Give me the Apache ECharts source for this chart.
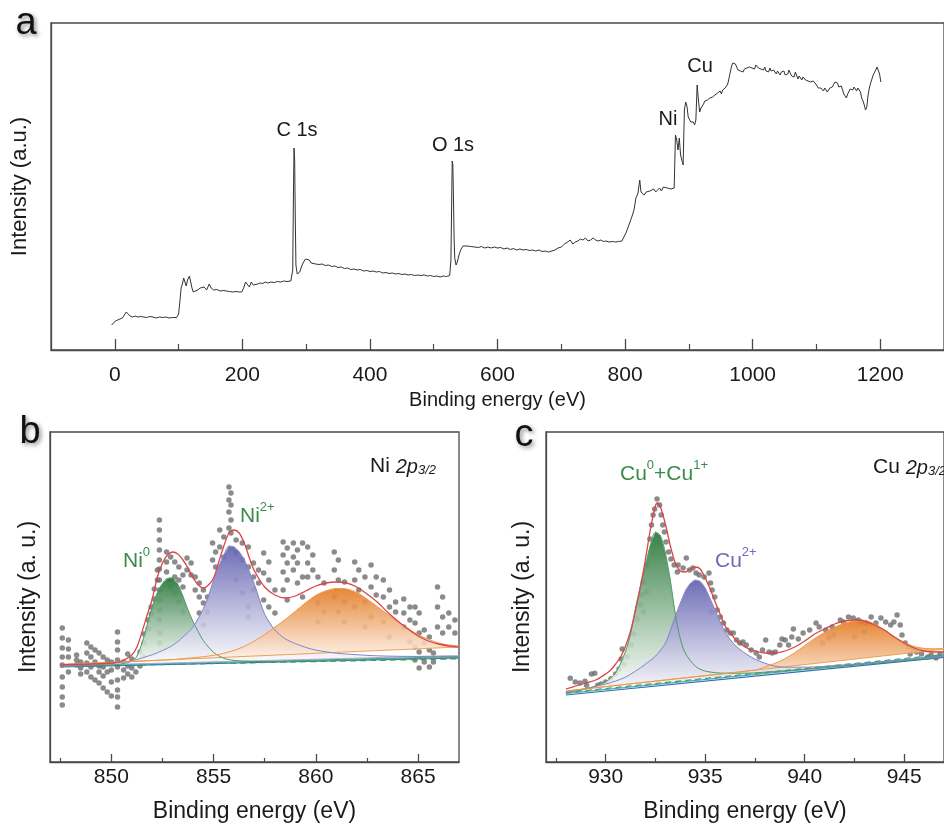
<!DOCTYPE html>
<html>
<head>
<meta charset="utf-8">
<script src="https://cdn.jsdelivr.net/npm/echarts@6/dist/echarts.min.js"></script>
<style>
  html, body { margin: 0; padding: 0; background: #fff; overflow: hidden; }
  #chart { width: 944px; height: 828px; }
</style>
</head>
<body>
<div id="chart"></div>
<script>
  // ---------- panel a : survey ----------
  const surveyTicks = [0, 200, 400, 600, 800, 1000, 1200];
  const surveyMinorTicks = [100, 300, 500, 700, 900, 1100];
  const surveySpectrum = [
    [-5, 25], [-2, 27], [1, 29], [4, 28], [8, 31], [12, 32], [15, 35], [18, 38], [21, 36], [24, 34],
    [28, 33], [32, 34], [36, 33], [40, 33.5], [45, 33], [50, 32.5], [55, 33.5], [60, 33], [65, 32],
    [70, 33], [75, 32.5], [80, 33], [85, 32], [90, 32.5], [97, 32.5], [100, 36], [102, 48], [104, 62],
    [106, 66], [108, 72], [110, 68], [112, 64], [114, 70], [117, 74], [119, 68], [121, 62], [123, 58],
    [126, 59], [130, 60], [134, 62], [137, 61], [140, 63], [144, 60], [148, 66], [151, 62], [155, 60],
    [160, 60.5], [165, 59], [170, 59.5], [175, 59], [180, 58.5], [185, 58], [190, 58.5], [195, 58],
    [199, 58], [202, 62], [205, 68], [208, 66], [211, 63], [214, 68], [217, 65], [220, 67], [224, 66],
    [228, 67], [232, 66.5], [236, 68], [240, 67], [245, 68], [250, 67.5], [255, 68.5], [260, 68],
    [265, 69], [270, 68.5], [276, 69], [279, 80], [280, 150], [281, 202], [282, 190], [283, 130],
    [284, 85], [286, 76], [288, 75], [290, 78], [293, 84], [296, 88], [299, 91], [302, 89], [305, 90],
    [308, 87], [311, 88], [315, 86], [320, 85.5], [325, 86], [330, 84.5], [335, 85], [340, 83.5],
    [345, 84], [350, 82.5], [355, 83], [360, 81.5], [365, 82], [370, 80.5], [375, 81], [380, 80],
    [385, 80.5], [390, 79], [395, 79.5], [400, 78.5], [405, 79], [410, 78], [415, 78.5], [420, 77],
    [425, 77.5], [430, 76.5], [435, 77], [440, 76], [445, 76.5], [450, 75.5], [455, 76], [460, 75],
    [465, 75.5], [470, 74.5], [475, 75], [480, 74.5], [485, 75], [490, 74], [495, 74.5], [500, 73.5],
    [505, 74], [510, 73], [515, 74], [520, 73.5], [525, 74.5], [527, 90], [528, 140], [529, 189],
    [530, 185], [531, 150], [532, 110], [533, 92], [535, 85], [537, 88], [540, 96], [543, 101],
    [546, 104], [549, 106], [552, 104], [555, 105], [558, 103.5], [561, 104.5], [564, 103], [567, 104],
    [570, 102.5], [575, 103.5], [580, 102], [585, 103], [590, 102], [595, 103], [600, 102], [605, 102.5],
    [610, 101], [615, 102], [620, 100.5], [625, 101.5], [630, 100], [635, 101], [640, 100], [645, 100.5],
    [650, 99.5], [655, 100], [660, 99], [665, 100], [670, 98.5], [675, 99], [680, 98], [685, 99],
    [690, 100], [695, 102], [700, 103], [705, 106], [710, 108], [714, 110], [718, 106], [722, 108],
    [726, 109], [730, 111], [734, 110], [738, 112], [742, 109], [746, 110], [750, 112], [754, 110],
    [758, 109], [762, 110], [766, 108.5], [770, 109], [775, 108], [780, 108.5], [785, 108], [790, 108.5],
    [795, 109], [798, 110], [802, 118], [806, 125], [810, 132], [814, 140], [817, 152], [820, 156],
    [823, 170], [825, 158], [827, 160], [830, 155], [833, 158], [836, 156], [839, 159], [842, 157],
    [845, 161], [848, 158], [851, 160], [854, 162], [857, 159], [860, 163], [863, 161], [866, 162],
    [869, 160], [872, 161], [875, 162], [877, 162], [879, 215], [881, 210], [883, 200], [885, 212],
    [887, 195], [889, 190], [891, 185], [893, 240], [895, 248], [897, 244], [899, 233], [901, 232],
    [903, 228], [905, 230], [907, 228], [909, 225], [911, 230], [913, 265], [915, 250], [917, 238],
    [919, 242], [921, 243], [923, 246], [925, 249], [927, 247], [929, 250], [931, 248], [933, 252],
    [935, 250], [937, 253], [939, 251], [941, 255], [943, 253], [945, 257], [947, 255], [949, 259],
    [951, 256], [953, 260], [955, 258], [957, 262], [959, 264], [961, 266], [963, 272], [965, 278],
    [967, 284], [969, 287], [971, 288], [973, 286], [975, 284], [977, 280], [979, 281], [981, 279],
    [983, 277], [985, 278], [987, 281], [989, 283], [991, 282], [993, 284], [995, 283], [997, 285],
    [999, 282], [1001, 284], [1003, 281], [1005, 285], [1007, 283], [1009, 282], [1011, 284], [1013, 281],
    [1015, 282], [1017, 280], [1019, 283], [1021, 279], [1023, 281], [1025, 278], [1027, 282], [1029, 279],
    [1031, 277], [1033, 280], [1035, 278], [1037, 276], [1039, 279], [1041, 277], [1043, 275], [1045, 278],
    [1047, 276], [1049, 279], [1051, 275], [1053, 277], [1055, 276], [1057, 280], [1059, 277], [1061, 274],
    [1063, 276], [1065, 273], [1067, 278], [1069, 276], [1071, 271], [1073, 274], [1075, 272], [1077, 270],
    [1079, 273], [1081, 271], [1083, 270], [1085, 272], [1087, 269], [1089, 271], [1091, 268], [1093, 267],
    [1095, 269], [1097, 268], [1099, 266], [1101, 265], [1103, 262], [1105, 260], [1107, 262], [1109, 261],
    [1111, 259], [1113, 262], [1115, 260], [1117, 258], [1119, 260], [1121, 262], [1123, 260], [1125, 263],
    [1127, 264], [1129, 268], [1131, 266], [1133, 267], [1135, 263], [1137, 262], [1139, 264], [1141, 260],
    [1143, 256], [1145, 254], [1147, 252], [1149, 256], [1151, 258], [1153, 261], [1155, 262], [1157, 260],
    [1159, 263], [1161, 261], [1163, 259], [1165, 262], [1167, 260], [1169, 258], [1171, 252], [1173, 249],
    [1175, 245], [1177, 240], [1179, 243], [1181, 255], [1183, 262], [1185, 267], [1187, 271], [1189, 275],
    [1191, 277], [1193, 280], [1195, 283], [1197, 281], [1199, 276], [1201, 268]
  ];

  // ---------- panel b : Ni 2p3/2 ----------
  const niTicks = [850, 855, 860, 865];
  const niMinorTicks = [847.5, 852.5, 857.5, 862.5];
  const niPoints = [
    [847.6, 134], [847.6, 124], [847.6, 114], [847.6, 105], [847.6, 97], [847.6, 85], [847.6, 75], [847.6, 65], [847.6, 57],
    [847.9, 122], [847.9, 113], [847.9, 105], [847.9, 90],
    [848.3, 107], [848.3, 102], [848.3, 97], [848.5, 94], [848.5, 100], [848.5, 88],
    [848.8, 119], [848.8, 109], [848.8, 99], [848.8, 90], [849.0, 115], [849.0, 105], [849.0, 95], [849.0, 85],
    [849.2, 112], [849.2, 100], [849.2, 82], [849.4, 109], [849.4, 96], [849.4, 79], [849.4, 90],
    [849.6, 105], [849.6, 95], [849.6, 86], [849.6, 74], [849.8, 102], [849.8, 90], [849.8, 70],
    [850.0, 100], [850.0, 92], [850.0, 80], [850.0, 66],
    [850.3, 130], [850.3, 120], [850.3, 112], [850.3, 102], [850.3, 95], [850.3, 82], [850.3, 72], [850.3, 65], [850.3, 55],
    [850.6, 100], [850.6, 92], [850.6, 84], [850.8, 108], [850.8, 96], [850.8, 88], [851.0, 103], [851.0, 94], [851.0, 85],
    [851.2, 99], [851.2, 90], [851.4, 110], [851.4, 96], [851.6, 119], [851.6, 128], [851.6, 105],
    [851.8, 142], [851.8, 133], [851.95, 155], [851.95, 148], [852.1, 173], [852.1, 163], [852.25, 192], [852.25, 182],
    [852.35, 242], [852.35, 232], [852.35, 222], [852.35, 212], [852.35, 202], [852.35, 193], [852.35, 182],
    [852.35, 172], [852.35, 162], [852.35, 152], [852.35, 142], [852.35, 129], [852.35, 119],
    [852.7, 210], [852.7, 200], [852.7, 190], [852.9, 205], [852.9, 182], [852.9, 175],
    [853.1, 200], [853.1, 185], [853.1, 169], [853.3, 195], [853.3, 182], [853.3, 160],
    [853.5, 187], [853.5, 175], [853.5, 150], [853.7, 204], [853.7, 192], [853.9, 199], [853.9, 187],
    [854.1, 185], [854.1, 172], [854.3, 179], [854.3, 165], [854.3, 149], [854.5, 172], [854.5, 159], [854.5, 137],
    [854.7, 165], [854.7, 150], [854.95, 219], [854.95, 202], [855.1, 210], [855.1, 195],
    [855.3, 232], [855.3, 215], [855.5, 225], [855.5, 205],
    [855.75, 275], [855.75, 262], [855.75, 250], [855.75, 234], [855.85, 269], [855.85, 257], [855.85, 242], [855.85, 229],
    [856.1, 222], [856.1, 209], [856.1, 182], [856.4, 219], [856.4, 202], [856.4, 169],
    [856.7, 215], [856.7, 195], [856.7, 155], [856.7, 145], [856.95, 199], [856.95, 185], [856.95, 172],
    [857.2, 192], [857.2, 179], [857.45, 209], [857.45, 189], [857.45, 162], [857.7, 200], [857.7, 182], [857.7, 155],
    [858.0, 172], [858.0, 149], [858.4, 220], [858.4, 207], [858.4, 190], [858.4, 172],
    [858.6, 214], [858.6, 199], [858.6, 182], [858.6, 162], [858.9, 219], [858.9, 205], [858.9, 192],
    [859.1, 212], [859.1, 199], [859.1, 179], [859.35, 219], [859.35, 185], [859.35, 165],
    [859.6, 215], [859.6, 199], [859.6, 185], [859.85, 207], [859.85, 192],
    [860.1, 185], [860.1, 159], [860.1, 140], [860.4, 179], [860.4, 150],
    [860.9, 210], [860.9, 192], [860.9, 165], [861.1, 202], [861.1, 182], [861.1, 150],
    [861.4, 180], [861.4, 160], [861.4, 140], [861.9, 200], [861.9, 182], [861.9, 155],
    [862.1, 192], [862.1, 172], [862.4, 185], [862.4, 160], [862.4, 135],
    [862.7, 197], [862.7, 175], [862.7, 145], [862.95, 185], [862.95, 167],
    [863.3, 182], [863.3, 165], [863.3, 140], [863.6, 172], [863.6, 155], [863.6, 125], [863.9, 160], [863.9, 150],
    [864.3, 163], [864.3, 149], [864.3, 135], [864.6, 155], [864.6, 142], [864.6, 120],
    [864.85, 155], [864.85, 139], [864.85, 115], [864.85, 102], [865.05, 149], [865.05, 129], [865.05, 110], [865.05, 94],
    [865.3, 132], [865.3, 119], [865.3, 100], [865.55, 125], [865.55, 112], [865.55, 95], [865.75, 109], [865.75, 100],
    [865.95, 175], [865.95, 155], [865.95, 135], [866.2, 165], [866.2, 145], [866.2, 129],
    [866.5, 149], [866.5, 135], [866.8, 142], [866.8, 129]
  ];
  const niEnvelope = [
    [847.5, 97], [848, 97.5], [849, 98], [850, 99], [850.5, 101], [851, 107], [851.25, 115], [851.5, 130],
    [851.75, 147], [852, 163], [852.25, 185], [852.5, 199], [852.75, 207], [853, 210], [853.25, 208],
    [853.5, 202], [853.75, 194], [854, 184], [854.25, 177], [854.5, 174], [854.75, 177], [855, 184],
    [855.25, 200], [855.5, 216], [855.75, 229], [856, 232], [856.25, 229], [856.5, 219], [856.75, 204],
    [857, 191], [857.5, 175], [858, 167], [858.5, 164], [859, 166], [859.5, 171], [860, 176], [860.5, 179],
    [861, 180], [861.5, 179], [862, 175], [862.5, 168], [863, 160], [863.5, 150], [864, 141], [864.5, 133],
    [865, 126], [865.5, 121], [866, 118], [866.5, 116], [867, 115]
  ];
  const niMetal = [
    [847.5, 95.7], [848.5, 96.2], [849.5, 96.6], [850, 96.9], [850.5, 98.1], [851, 100.8], [851.25, 105.9],
    [851.5, 119], [851.75, 137.1], [852, 155.3], [852.25, 169.4], [852.5, 178.5], [852.75, 183.6], [853, 183.7],
    [853.25, 177.8], [853.5, 165.9], [853.75, 152], [854, 140.2], [854.25, 130.3], [854.5, 121.4], [855, 109.6],
    [855.5, 103.8], [856, 101.6], [857, 100.5], [858, 100.5], [860, 101.4], [862, 102.3], [864, 103.2], [867, 104.5]
  ];
  const niOxide = [
    [847.5, 95.7], [849, 96.9], [850, 98.4], [850.5, 99.6], [851, 101.3], [851.5, 104], [852, 107.3], [852.5, 111.5],
    [853, 116.7], [853.5, 124.9], [854, 135.2], [854.5, 153.4], [854.75, 166.5], [855, 181.6], [855.25, 195.7],
    [855.5, 206.8], [855.75, 215.9], [856, 215.1], [856.25, 210.2], [856.5, 202.3], [856.75, 190.4], [857, 177.5],
    [857.5, 147.7], [858, 132], [858.5, 123.2], [859, 118.4], [859.5, 114.6], [860, 111.9], [861, 108.8],
    [862, 107.3], [863, 106.2], [864, 105.7], [865, 105.6], [866, 105.6], [867, 105.5]
  ];
  const niSatellite = [
    [847.5, 97.45], [850, 99.7], [853, 102.4], [853.5, 103.4], [854, 104.3], [854.5, 105.3], [855, 106.7],
    [855.5, 108.7], [856, 111.6], [856.5, 115.6], [857, 121], [857.5, 127.5], [858, 134.9], [858.5, 142.4],
    [859, 150.8], [859.5, 159.3], [860, 166.7], [860.5, 171.2], [861, 173.6], [861.5, 173.1], [862, 169.5],
    [862.5, 163], [863, 155.4], [863.5, 147.9], [864, 140.3], [864.5, 133.8], [865, 127.2], [865.5, 122.7],
    [866, 119.1], [866.5, 117.1], [867, 116]
  ];
  const niBackground = [[847.5, 95.2], [867, 104]];
  const niSatBackground = [[847.5, 97.45], [867, 115]];
  const niTealLine = [[847.5, 95.8], [867, 105.5]];
  const niGreenLine = [[847.5, 95.5], [867, 103.2]];
  const niLavenderLine = [[847.5, 96.2], [867, 106.5]];

  // ---------- panel c : Cu 2p3/2 ----------
  const cuTicks = [930, 935, 940, 945];
  const cuMinorTicks = [927.5, 932.5, 937.5, 942.5];
  const cuPoints = [
    [928.22, 83.7], [928.47, 80], [928.71, 79], [928.96, 80.7], [929.04, 76.7], [929.28, 88], [929.45, 88.7],
    [929.6, 76.7], [929.77, 78], [930.0, 80], [930.26, 83.3], [930.5, 88], [930.67, 93], [930.78, 103],
    [930.83, 113], [930.91, 98], [931.08, 105], [931.27, 117], [931.4, 128], [931.57, 143], [931.73, 157],
    [931.81, 167], [931.89, 180], [931.9, 150], [932.05, 170], [932.06, 197], [932.22, 223], [932.3, 237],
    [932.38, 247], [932.46, 253], [932.58, 263], [932.71, 257], [932.79, 247], [932.87, 237], [932.95, 230],
    [933.03, 220], [933.16, 210], [933.28, 203], [933.44, 197], [933.6, 190], [933.64, 197], [933.89, 194],
    [934.05, 204], [934.21, 192], [934.38, 194], [934.54, 189], [934.7, 187], [934.95, 185], [935.19, 189],
    [935.27, 179], [935.3, 150], [935.35, 172], [935.48, 165], [935.6, 152], [935.76, 145], [935.92, 139],
    [936.09, 132], [936.25, 129], [936.41, 129], [936.58, 122], [936.74, 119], [936.9, 120], [937.07, 117],
    [937.31, 112], [937.56, 109], [937.72, 105], [937.88, 112], [938.04, 122], [938.21, 110], [938.37, 109],
    [938.53, 110], [938.75, 117], [938.86, 123], [939.02, 122], [939.19, 117], [939.35, 125], [939.43, 133],
    [939.68, 123], [939.92, 129], [940.25, 132], [940.57, 139], [940.73, 135], [940.9, 119], [941.06, 132],
    [941.2, 124], [941.38, 135], [941.46, 127], [941.79, 142], [941.95, 140], [942.2, 145], [942.44, 144],
    [942.5, 125], [942.69, 142], [942.85, 140], [943.0, 130], [943.1, 139], [943.34, 145], [943.58, 139],
    [943.83, 144], [944.07, 140], [944.32, 137], [944.48, 140], [944.64, 147], [944.8, 137], [944.89, 127],
    [945.05, 119], [945.2, 115], [945.3, 108], [945.46, 113], [945.62, 110], [945.87, 108], [946.19, 105],
    [946.36, 107], [946.6, 104], [946.8, 108]
  ];
  const cuEnvelope = [
    [928, 73], [928.5, 76], [929, 79], [929.5, 82], [930, 88], [930.25, 92], [930.5, 98], [930.75, 105],
    [931, 116], [931.25, 131], [931.5, 152], [931.75, 176], [932, 203], [932.25, 233], [932.5, 256],
    [932.6, 259], [932.75, 255], [933, 238], [933.25, 216], [933.5, 199], [933.75, 191], [934, 190],
    [934.25, 193], [934.5, 195], [934.75, 193], [935, 184], [935.25, 173], [935.5, 160], [935.75, 148],
    [936, 136], [936.5, 123], [937, 115], [937.5, 111], [938, 109], [938.5, 109], [939, 111], [939.5, 115],
    [940, 121], [940.5, 128], [941, 133], [941.5, 138], [942, 141], [942.5, 142], [943, 141], [943.5, 137],
    [944, 132], [944.5, 125], [945, 119], [945.5, 114], [946, 111], [946.5, 110], [947, 110]
  ];
  const cuReduced = [
    [928, 69], [929, 73], [929.5, 76], [930, 80], [930.5, 89], [931, 110.9], [931.25, 128.4], [931.5, 153.9],
    [931.75, 176.4], [932, 196.9], [932.25, 217.4], [932.5, 229.9], [932.75, 226.4], [933, 208.9],
    [933.25, 181.4], [933.5, 147.9], [933.75, 123.4], [934, 108.9], [934.5, 95.9], [935, 90.9], [936, 88.8],
    [937, 88.8], [938, 89.8], [940, 92.8], [943, 97.7], [947, 105.1]
  ];
  const cuOxide = [
    [928, 70], [929, 73.5], [930, 78], [930.5, 81], [931, 84.9], [931.5, 90.9], [932, 97.9], [932.5, 105.9],
    [933, 118.9], [933.5, 145.9], [934, 170.9], [934.25, 178.4], [934.5, 181.9], [934.75, 180.4], [935, 173.9],
    [935.5, 151.9], [936, 129.8], [936.5, 116.8], [937, 108.8], [937.5, 102.8], [938, 98.8], [938.5, 95.8],
    [939, 94.8], [940, 94.8], [941, 95.7], [943, 98.7], [945, 102.2], [947, 105.6]
  ];
  const cuSatellite = [
    [928, 71], [934, 84.2], [937.5, 91.9], [938, 95], [938.5, 98.6], [939, 103.2], [939.5, 109.3], [940, 116.4],
    [940.5, 123.5], [941, 129.6], [941.5, 134.7], [942, 138.8], [942.5, 140.9], [943, 141], [943.5, 138.1],
    [944, 132.2], [944.5, 125.3], [945, 119.4], [945.5, 115.5], [946, 113.6], [946.5, 113.2], [947, 113.8]
  ];
  const cuBackground = [[928, 67], [947, 104.6]];
  const cuSatBackground = [[928, 71], [947, 112.8]];
  const cuTealLine = [[928, 68.5], [947, 106.5]];
  const cuGreenLine = [[928, 69.5], [947, 107.5]];

  // ---------- styles ----------
  const FONT = "'Liberation Sans', Arial, sans-serif";
  const AXIS = '#4a4a4a';
  const TXT = '#1a1a1a';
  const GREEN = '#3b8a4c';
  const PURPLE = '#6b6bb8';

  function fillSeries(idx, curve, base, top, bottom, z) {
    return {
      type: 'custom', xAxisIndex: idx, yAxisIndex: idx, z: z, silent: true,
      data: [curve[0]],
      renderItem: function (params, api) {
        const pts = curve.concat(base.slice().reverse()).map(p => api.coord(p));
        return {
          type: 'polygon',
          shape: { points: pts },
          style: {
            fill: {
              type: 'linear', x: 0, y: 0, x2: 0, y2: 1,
              colorStops: [{ offset: 0, color: top }, { offset: 1, color: bottom }]
            },
            stroke: 'none'
          }
        };
      }
    };
  }
  function lineSeries(idx, data, color, width, z, dashed) {
    return {
      type: 'line', xAxisIndex: idx, yAxisIndex: idx, data: data, showSymbol: false, smooth: 0.3,
      silent: true, z: z,
      lineStyle: { color: color, width: width, type: dashed ? [6, 4] : 'solid' }
    };
  }
  function dots(idx, data) {
    return {
      type: 'scatter', xAxisIndex: idx, yAxisIndex: idx, data: data, symbolSize: 5.5, z: 1, silent: true,
      itemStyle: { color: '#6e6e6e' }
    };
  }
  function majorAxis(grid, min, max, ticks, tickLen, labelMargin, nameGap, nameSize) {
    return {
      type: 'value', gridIndex: grid, min: min, max: max, position: 'bottom',
      name: 'Binding energy (eV)', nameLocation: 'middle', nameGap: nameGap,
      nameTextStyle: { fontFamily: FONT, fontSize: nameSize, color: TXT },
      axisLine: { show: true, onZero: false, lineStyle: { color: AXIS, width: 1.3 } },
      axisTick: { show: true, inside: true, length: tickLen, customValues: ticks, lineStyle: { color: AXIS, width: 1.3 } },
      axisLabel: { show: true, customValues: ticks, margin: labelMargin, fontFamily: FONT, fontSize: 21, color: TXT,
        formatter: v => String(v) },
      splitLine: { show: false }
    };
  }
  function minorAxis(grid, min, max, ticks, tickLen) {
    return {
      type: 'value', gridIndex: grid, min: min, max: max, position: 'bottom',
      axisLine: { show: false, onZero: false },
      axisTick: { show: true, inside: true, length: tickLen, customValues: ticks, lineStyle: { color: AXIS, width: 1.2 } },
      axisLabel: { show: false },
      splitLine: { show: false }
    };
  }
  function yAxis(grid, max, name, gap, size) {
    return {
      type: 'value', gridIndex: grid, min: 0, max: max, position: 'left',
      name: name, nameLocation: 'middle', nameGap: gap,
      nameTextStyle: { fontFamily: FONT, fontSize: size, color: TXT },
      axisLine: { show: true, onZero: false, lineStyle: { color: AXIS, width: 1.3 } },
      axisTick: { show: false }, axisLabel: { show: false }, splitLine: { show: false }
    };
  }
  function panelLetter(x, y, t) {
    return {
      type: 'text', x: x, y: y, z: 100,
      style: {
        text: t, fontFamily: FONT, fontSize: 38, fill: '#111', textAlign: 'center', textVerticalAlign: 'middle',
        textShadowColor: 'rgba(0,0,0,0.45)', textShadowBlur: 4, textShadowOffsetX: 2, textShadowOffsetY: 2
      }
    };
  }
  function plainText(x, y, t, size, align) {
    return {
      type: 'text', x: x, y: y, z: 100,
      style: { text: t, fontFamily: FONT, fontSize: size, fill: TXT, textAlign: align || 'center', textVerticalAlign: 'middle' }
    };
  }
  function richText(x, y, t, color) {
    return {
      type: 'text', x: x, y: y, z: 100,
      style: {
        text: t, textAlign: 'left', textVerticalAlign: 'middle',
        rich: {
          m: { fontFamily: FONT, fontSize: 21, fill: color, lineHeight: 26, verticalAlign: 'bottom' },
          i: { fontFamily: FONT, fontSize: 20, fill: color, fontStyle: 'italic', lineHeight: 26, verticalAlign: 'bottom' },
          sup: { fontFamily: FONT, fontSize: 13, fill: color, lineHeight: 13, verticalAlign: 'top' },
          sub: { fontFamily: FONT, fontSize: 13, fill: color, fontStyle: 'italic', lineHeight: 13, verticalAlign: 'bottom' }
        }
      }
    };
  }

  const chart = echarts.init(document.getElementById('chart'), null, { renderer: 'canvas' });
  chart.setOption({
    backgroundColor: '#fff',
    animation: false,
    grid: [
      { left: 51, top: 23, width: 901, height: 327, show: true, borderColor: AXIS, borderWidth: 1.3, backgroundColor: 'transparent' },
      { left: 50, top: 432, width: 409, height: 330, show: true, borderColor: AXIS, borderWidth: 1.3, backgroundColor: 'transparent' },
      { left: 546, top: 432, width: 409, height: 330, show: true, borderColor: AXIS, borderWidth: 1.3, backgroundColor: 'transparent' }
    ],
    xAxis: [
      majorAxis(0, -100, 1300, surveyTicks, 11, 15, 40, 20),
      majorAxis(1, 847, 867, niTicks, 8, 5, 38, 23),
      majorAxis(2, 927, 947, cuTicks, 8, 5, 38, 23),
      minorAxis(0, -100, 1300, surveyMinorTicks, 6),
      minorAxis(1, 847, 867, niMinorTicks, 4),
      minorAxis(2, 927, 947, cuMinorTicks, 4)
    ],
    yAxis: [
      yAxis(0, 327, 'Intensity (a.u.)', 20, 22),
      yAxis(1, 330, 'Intensity (a. u.)', 10, 23),
      yAxis(2, 330, 'Intensity (a. u.)', 12, 23)
    ],
    series: [
      // a
      { type: 'line', xAxisIndex: 0, yAxisIndex: 0, data: surveySpectrum, showSymbol: false, silent: true,
        lineStyle: { color: '#333', width: 1 } },
      // b
      dots(1, niPoints),
      fillSeries(1, niMetal, niBackground, 'rgba(45,122,62,0.95)', 'rgba(255,255,255,0.85)', 2),
      fillSeries(1, niOxide, niBackground, 'rgba(98,98,178,0.93)', 'rgba(255,255,255,0.85)', 3),
      fillSeries(1, niSatellite, niSatBackground, 'rgba(228,124,38,0.92)', 'rgba(255,250,245,0.85)', 4),
      lineSeries(1, niBackground, '#2f6db5', 1.2, 5),
      lineSeries(1, niGreenLine, '#2e9a6a', 1.2, 5, true),
      lineSeries(1, niTealLine, '#3aa3a0', 1, 5),
      lineSeries(1, niLavenderLine, '#a9a9d2', 1, 5),
      lineSeries(1, niSatBackground, '#f0a04e', 1, 5),
      lineSeries(1, niMetal, '#4f9c5f', 1, 6),
      lineSeries(1, niOxide, '#8484c6', 1, 6),
      lineSeries(1, niSatellite, '#ee9a48', 1, 6),
      lineSeries(1, niEnvelope, '#d9464a', 1.3, 7),
      // c
      dots(2, cuPoints),
      fillSeries(2, cuReduced, cuBackground, 'rgba(45,122,62,0.95)', 'rgba(255,255,255,0.85)', 2),
      fillSeries(2, cuOxide, cuBackground, 'rgba(98,98,178,0.93)', 'rgba(255,255,255,0.85)', 3),
      fillSeries(2, cuSatellite, cuSatBackground, 'rgba(228,124,38,0.92)', 'rgba(255,250,245,0.85)', 4),
      lineSeries(2, cuBackground, '#2f6db5', 1.2, 5),
      lineSeries(2, cuGreenLine, '#2e9a6a', 1.2, 5, true),
      lineSeries(2, cuTealLine, '#3aa3a0', 1, 5),
      lineSeries(2, cuSatBackground, '#f0a04e', 1, 5),
      lineSeries(2, cuReduced, '#4f9c5f', 1, 6),
      lineSeries(2, cuOxide, '#8484c6', 1, 6),
      lineSeries(2, cuSatellite, '#ee9a48', 1, 6),
      lineSeries(2, cuEnvelope, '#d9464a', 1.3, 7)
    ],
    graphic: [
      panelLetter(26, 24, 'a'),
      panelLetter(30, 433, 'b'),
      panelLetter(524, 436, 'c'),
      plainText(297, 130, 'C 1s', 20),
      plainText(453, 145, 'O 1s', 20),
      plainText(668, 119, 'Ni', 20),
      plainText(700, 66, 'Cu', 20),
      richText(123, 559, '{m|Ni}{sup|0}', GREEN),
      richText(240, 514, '{m|Ni}{sup|2+}', GREEN),
      richText(370, 464, '{m|Ni }{i|2p}{sub|3/2}', TXT),
      richText(620, 472, '{m|Cu}{sup|0}{m|+Cu}{sup|1+}', GREEN),
      richText(715, 559, '{m|Cu}{sup|2+}', PURPLE),
      richText(873, 465, '{m|Cu }{i|2p}{sub|3/2}', TXT)
    ]
  });
</script>
</body>
</html>
